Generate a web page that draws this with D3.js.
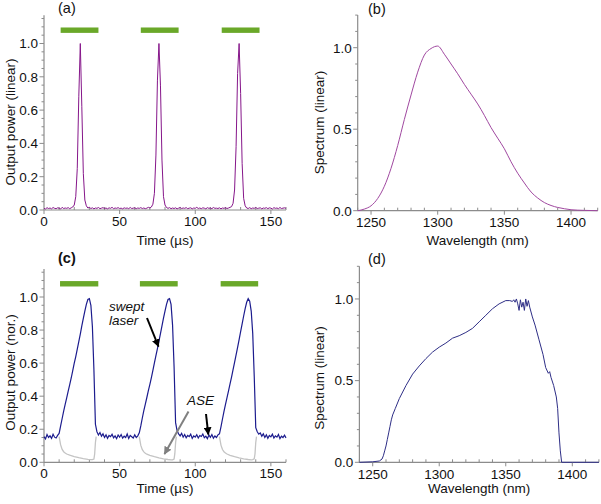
<!DOCTYPE html>
<html><head><meta charset="utf-8">
<script src="https://cdn.jsdelivr.net/npm/d3@7"></script>
<style>
html,body{margin:0;padding:0;background:#fff;}
svg{display:block;font-family:"Liberation Sans",Arial,sans-serif;}
</style></head>
<body><svg id="chart" width="601" height="504"></svg>
<script>
// ---------- DATA ----------
// (a) output power vs time, t = 0..160 µs, 1 µs step
const powerA = [
 0.010,0.006,0.014,0.009,0.012,0.007,0.015,0.010,0.008,0.013,
 0.011,0.006,0.016,0.009,0.012,0.010,0.014,0.008,0.013,0.018,
 0.030,0.080,0.250,0.680,1.000,0.620,0.220,0.060,0.025,0.012,
 0.016,0.009,0.013,0.007,0.012,0.010,0.015,0.008,0.011,0.014,
 0.009,0.012,0.007,0.013,0.010,0.016,0.008,0.012,0.010,0.014,
 0.009,0.011,0.007,0.013,0.010,0.012,0.008,0.015,0.009,0.011,
 0.013,0.008,0.012,0.010,0.014,0.009,0.012,0.008,0.011,0.016,
 0.012,0.018,0.035,0.100,0.330,0.780,1.000,0.750,0.300,0.080,
 0.030,0.015,0.010,0.014,0.008,0.012,0.009,0.013,0.007,0.011,
 0.015,0.009,0.012,0.010,0.014,0.008,0.011,0.013,0.007,0.012,
 0.010,0.016,0.009,0.012,0.008,0.013,0.011,0.007,0.014,0.010,
 0.012,0.008,0.015,0.010,0.011,0.009,0.013,0.007,0.012,0.010,
 0.014,0.009,0.012,0.016,0.020,0.040,0.120,0.380,0.820,1.000,
 0.700,0.280,0.070,0.025,0.012,0.009,0.014,0.008,0.012,0.010,
 0.015,0.009,0.011,0.013,0.007,0.012,0.010,0.014,0.008,0.013,
 0.011,0.006,0.014,0.010,0.012,0.008,0.015,0.009,0.011,0.013,
 0.010
];
// (c) swept laser output, t = 0..160 µs, 1 µs step
const powerC = [
 0.155,0.142,0.168,0.150,0.160,0.145,0.170,0.152,0.147,0.163,
 0.175,0.220,0.265,0.310,0.350,0.390,0.430,0.470,0.510,0.555,
 0.600,0.640,0.685,0.730,0.775,0.825,0.870,0.915,0.955,0.985,
 0.990,0.950,0.820,0.560,0.230,0.185,0.165,0.180,0.158,0.172,
 0.150,0.166,0.145,0.162,0.155,0.170,0.148,0.160,0.143,0.165,
 0.152,0.168,0.146,0.158,0.150,0.171,0.144,0.162,0.155,0.147,
 0.166,0.150,0.160,0.178,0.220,0.268,0.312,0.352,0.392,0.433,
 0.472,0.512,0.556,0.602,0.645,0.688,0.733,0.778,0.826,0.872,
 0.915,0.955,0.985,0.990,0.955,0.830,0.580,0.240,0.190,0.172,
 0.160,0.175,0.152,0.168,0.148,0.163,0.155,0.170,0.145,0.160,
 0.152,0.167,0.147,0.162,0.156,0.171,0.149,0.158,0.143,0.165,
 0.151,0.168,0.146,0.159,0.150,0.166,0.172,0.215,0.262,0.308,
 0.350,0.392,0.432,0.474,0.516,0.560,0.605,0.650,0.695,0.742,
 0.790,0.838,0.885,0.930,0.968,0.990,0.975,0.915,0.780,0.520,
 0.210,0.185,0.170,0.178,0.158,0.172,0.150,0.166,0.145,0.162,
 0.154,0.170,0.147,0.160,0.152,0.168,0.143,0.158,0.150,0.164,
 0.148
];
// (c) ASE (gray), three windows separated by null
const aseTime = [
 10,11,12,13,14,15,17,20,23,26,29,31,32,33,33.5,34,34.5, null,
 63,64,65,66,67,68,70,73,76,79,82,84,85,86,86.5,87,87.5, null,
 116,117,118,119,120,121,123,126,129,132,135,137,138,139,139.5,140,140.5
];
const aseValue = [
 0.155,0.105,0.078,0.064,0.056,0.050,0.043,0.035,0.028,0.022,0.018,0.016,0.016,0.020,0.050,0.120,0.155, null,
 0.155,0.102,0.076,0.063,0.055,0.049,0.042,0.034,0.027,0.021,0.017,0.015,0.015,0.020,0.052,0.118,0.155, null,
 0.155,0.104,0.077,0.064,0.056,0.050,0.042,0.034,0.027,0.021,0.017,0.015,0.016,0.021,0.050,0.120,0.155
];
// green bars (sweep windows), µs
const barStartA = [11, 64, 117.5];
const barEndA   = [36, 89, 142.5];
const barStartC = [10.6, 63.4, 116.8];
const barEndC   = [35.9, 88.4, 141.6];
const barLevel  = 1.08;

// (b) spectrum
const wlB = [1240,1245,1250,1255,1260,1265,1270,1275,1280,1285,1290,1295,1300,1305,1310,1315,1320,1325,1330,1335,1340,1345,1350,1355,1360,1365,1370,1375,1380,1385,1390,1395,1400,1410,1420];
const specB = [0.0,0.01,0.03,0.075,0.15,0.26,0.40,0.56,0.71,0.85,0.955,0.995,1.01,0.96,0.90,0.84,0.775,0.715,0.655,0.585,0.51,0.445,0.38,0.30,0.23,0.17,0.115,0.078,0.05,0.032,0.02,0.012,0.006,0.002,0.0];

// (d) spectrum
const wlD = [1240,1250,1255,1257,1258,1259,1260,1261,1262,1263,1264,1265,1267,1270,1275,1280,1285,1290,1295,1300,1305,1310,1315,1320,1325,1330,1335,1340,1345,1350,1353,1355,1356,1357,1358,1359,1360,1361,1362,1363,1364,1365,1366,1367,1368,1370,1372,1375,1378,1380,1382,1383,1384,1386,1388,1389,1390,1391,1392,1400,1420];
const specD = [0.0,0.003,0.008,0.02,0.04,0.07,0.10,0.14,0.18,0.22,0.26,0.29,0.33,0.39,0.47,0.54,0.59,0.635,0.675,0.705,0.73,0.76,0.775,0.795,0.82,0.86,0.90,0.94,0.97,0.99,0.99,0.985,0.995,0.98,1.0,0.97,0.93,0.995,0.95,0.98,0.93,1.0,0.955,0.99,0.95,0.89,0.84,0.75,0.66,0.58,0.545,0.555,0.52,0.47,0.40,0.33,0.18,0.07,0.0,0.0,0.0];

// tick labels
const timeTicks = [0, 50, 100, 150];
const powerTicks = [0, 0.2, 0.4, 0.6, 0.8, 1.0];
const wlTicks = [1250, 1300, 1350, 1400];
const specTicks = [0, 0.5, 1.0];

// ---------- DRAW ----------
const svg = d3.select("#chart");
const axisColor = "#8c8c8c";
const fmt = d3.format(".1f");

function drawAxes(x, y, o) {
  const g = svg.append("g");
  const [x0, x1] = x.range();
  const [y0, y1] = y.range();
  g.selectAll(null).data(o.xMinor).join("line")
    .attr("x1", d => x(d)).attr("x2", d => x(d))
    .attr("y1", y0).attr("y2", y0 - 3)
    .attr("stroke", axisColor).attr("stroke-width", 1);
  g.selectAll(null).data(o.xMajor).join("line")
    .attr("x1", d => x(d)).attr("x2", d => x(d))
    .attr("y1", y0).attr("y2", y0 + 4)
    .attr("stroke", axisColor).attr("stroke-width", 1);
  g.selectAll(null).data(o.yMinor).join("line")
    .attr("x1", x0 - 2.5).attr("x2", x0)
    .attr("y1", d => y(d)).attr("y2", d => y(d))
    .attr("stroke", axisColor).attr("stroke-width", 1);
  g.selectAll(null).data(o.yMajor).join("line")
    .attr("x1", x0 - 4.5).attr("x2", x0)
    .attr("y1", d => y(d)).attr("y2", d => y(d))
    .attr("stroke", axisColor).attr("stroke-width", 1);
  g.append("line").attr("x1", x0).attr("x2", x1).attr("y1", y0).attr("y2", y0)
    .attr("stroke", axisColor).attr("stroke-width", 1.2);
  g.append("line").attr("x1", x0).attr("x2", x0).attr("y1", y0).attr("y2", y1)
    .attr("stroke", axisColor).attr("stroke-width", 1.2);
  g.selectAll(null).data(o.xMajor).join("text")
    .attr("x", d => x(d)).attr("y", y0 + o.xLabDy)
    .attr("text-anchor", "middle").attr("font-size", 13.5).attr("fill", "#111")
    .text(d => d);
  g.selectAll(null).data(o.yMajor).join("text")
    .attr("x", x0 - 6).attr("y", d => y(d) + 4.8)
    .attr("text-anchor", "end").attr("font-size", 13.5).attr("fill", "#111")
    .text(d => fmt(d));
  g.append("text").attr("x", (x0 + x1) / 2).attr("y", o.xTitleY)
    .attr("text-anchor", "middle").attr("font-size", 13.5).attr("fill", "#111")
    .text(o.xTitle);
  g.append("text")
    .attr("transform", `translate(${o.yTitleX},${o.yTitleCy}) rotate(-90)`)
    .attr("text-anchor", "middle").attr("font-size", 13.5).attr("fill", "#111")
    .text(o.yTitle);
  g.append("text").attr("x", o.tagX).attr("y", o.tagY)
    .attr("font-size", 14.5).attr("font-weight", o.tagBold ? "bold" : "normal")
    .attr("fill", "#111").text(o.tag);
  return g;
}

const tMinor = d3.range(10, 161, 10).filter(d => d % 50 !== 0);
const wlMinor = d3.range(1240, 1421, 10).filter(d => d % 50 !== 0);
const pMinor = d3.range(0.05, 1.16, 0.05).filter(d => Math.abs(d * 5 - Math.round(d * 5)) > 1e-6);
const sMinor = [0.1, 0.2, 0.3, 0.4, 0.6, 0.7, 0.8, 0.9, 1.1, 1.2];

// scales
const xA = d3.scaleLinear([0, 160], [44, 286]);
const yA = d3.scaleLinear([0, 1.17], [210, 15.2]);
const xB = d3.scaleLinear([1240, 1420], [357.7, 597.7]);
const yB = d3.scaleLinear([0, 1.2], [210.7, 15.1]);
const xC = d3.scaleLinear([0, 160], [44, 286]);
const yC = d3.scaleLinear([0, 1.17], [462.3, 268.9]);
const xD = d3.scaleLinear([1240, 1420], [359.4, 598.9]);
const yD = d3.scaleLinear([0, 1.2], [462.3, 266.3]);

// panel (a)
drawAxes(xA, yA, {xMajor: timeTicks, xMinor: tMinor, yMajor: powerTicks, yMinor: pMinor,
  xLabDy: 16, xTitle: "Time (µs)", xTitleY: 245, yTitle: "Output power (linear)",
  yTitleX: 15, yTitleCy: 122, tag: "(a)", tagX: 58, tagY: 13});
svg.selectAll(null).data(barStartA).join("rect")
  .attr("x", d => xA(d)).attr("width", (d, i) => xA(barEndA[i]) - xA(d))
  .attr("y", yA(barLevel) - 2.7).attr("height", 5.4).attr("fill", "#6aa829");
svg.append("path")
  .attr("d", d3.line().x((d, i) => xA(i)).y(d => yA(d))(powerA))
  .attr("fill", "none").attr("stroke", "#86168a").attr("stroke-width", 1);

// panel (b)
drawAxes(xB, yB, {xMajor: wlTicks, xMinor: wlMinor, yMajor: specTicks, yMinor: sMinor,
  xLabDy: 16, xTitle: "Wavelength (nm)", xTitleY: 245, yTitle: "Spectrum (linear)",
  yTitleX: 324, yTitleCy: 122.5, tag: "(b)", tagX: 368, tagY: 14});
svg.append("path")
  .attr("d", d3.line().curve(d3.curveMonotoneX).x((d, i) => xB(wlB[i])).y(d => yB(d))(specB))
  .attr("fill", "none").attr("stroke", "#a048a0").attr("stroke-width", 1);

// panel (c)
drawAxes(xC, yC, {xMajor: timeTicks, xMinor: tMinor, yMajor: powerTicks, yMinor: pMinor,
  xLabDy: 16, xTitle: "Time (µs)", xTitleY: 493, yTitle: "Output power (nor.)",
  yTitleX: 15, yTitleCy: 372.5, tag: "(c)", tagX: 58, tagY: 263, tagBold: true});
svg.selectAll(null).data(barStartC).join("rect")
  .attr("x", d => xC(d)).attr("width", (d, i) => xC(barEndC[i]) - xC(d))
  .attr("y", yC(barLevel) - 2.7).attr("height", 5.4).attr("fill", "#6aa829");
svg.append("path")
  .attr("d", d3.line().defined((d, i) => d != null && aseTime[i] != null)
    .x((d, i) => xC(aseTime[i])).y(d => yC(d))(aseValue))
  .attr("fill", "none").attr("stroke", "#c4c4c4").attr("stroke-width", 1.3);
svg.append("path")
  .attr("d", d3.line().x((d, i) => xC(i)).y(d => yC(d))(powerC))
  .attr("fill", "none").attr("stroke", "#1c1c8e").attr("stroke-width", 1.2);

// annotations
const defs = svg.append("defs");
function marker(id, color) {
  defs.append("marker").attr("id", id).attr("viewBox", "0 0 10 10")
    .attr("refX", 9).attr("refY", 5).attr("markerWidth", 4).attr("markerHeight", 4)
    .attr("orient", "auto").attr("markerUnits", "strokeWidth")
    .append("path").attr("d", "M0,0 L10,5 L0,10 z").attr("fill", color);
}
marker("ab", "#000");
marker("ag", "#808080");
const ann = svg.append("g").attr("font-size", 13.5).attr("font-style", "italic").attr("fill", "#111");
ann.append("text").attr("x", 109).attr("y", 310.5).text("swept");
ann.append("text").attr("x", 109).attr("y", 325).text("laser");
ann.append("text").attr("x", 187).attr("y", 405).text("ASE");
svg.append("line").attr("x1", 147).attr("y1", 318).attr("x2", 158.5).attr("y2", 346.5)
  .attr("stroke", "#000").attr("stroke-width", 2).attr("marker-end", "url(#ab)");
svg.append("line").attr("x1", 206).attr("y1", 414).attr("x2", 208.3).attr("y2", 434.5)
  .attr("stroke", "#000").attr("stroke-width", 2).attr("marker-end", "url(#ab)");
svg.append("line").attr("x1", 188.5).attr("y1", 411.5).attr("x2", 164.5).attr("y2", 454)
  .attr("stroke", "#808080").attr("stroke-width", 2).attr("marker-end", "url(#ag)");

// panel (d)
drawAxes(xD, yD, {xMajor: wlTicks, xMinor: wlMinor, yMajor: specTicks, yMinor: sMinor,
  xLabDy: 16.5, xTitle: "Wavelength (nm)", xTitleY: 493, yTitle: "Spectrum (linear)",
  yTitleX: 324, yTitleCy: 378, tag: "(d)", tagX: 368, tagY: 264});
svg.append("path")
  .attr("d", d3.line().x((d, i) => xD(wlD[i])).y(d => yD(d))(specD))
  .attr("fill", "none").attr("stroke", "#2e2e86").attr("stroke-width", 1);
</script></body></html>
